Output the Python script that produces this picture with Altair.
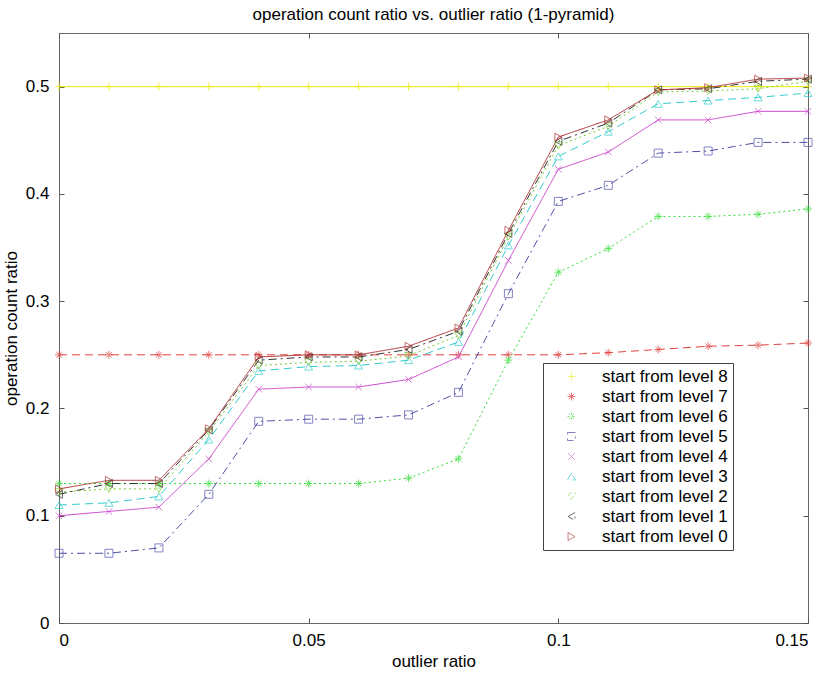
import altair as alt
import pandas as pd

outlier_ratio = [0.00, 0.01, 0.02, 0.03, 0.04, 0.05, 0.06, 0.07,
                 0.08, 0.09, 0.10, 0.11, 0.12, 0.13, 0.14, 0.15]

level8 = [0.5, 0.5, 0.5, 0.5, 0.5, 0.5, 0.5, 0.5, 0.5, 0.5, 0.5, 0.5, 0.5, 0.5, 0.5, 0.5]
level7 = [0.25, 0.25, 0.25, 0.25, 0.25, 0.25, 0.25, 0.25, 0.25, 0.25, 0.25, 0.252, 0.255, 0.258, 0.259, 0.261]
level6 = [0.13, 0.13, 0.13, 0.13, 0.13, 0.13, 0.13, 0.135, 0.153, 0.245, 0.327, 0.349, 0.379, 0.379, 0.381, 0.386]
level5 = [0.065, 0.065, 0.07, 0.12, 0.188, 0.19, 0.19, 0.194, 0.215, 0.307, 0.393, 0.408, 0.438, 0.44, 0.448, 0.448]
level4 = [0.10, 0.104, 0.108, 0.153, 0.218, 0.22, 0.22, 0.227, 0.248, 0.338, 0.423, 0.439, 0.469, 0.469, 0.477, 0.477]
level3 = [0.11, 0.112, 0.118, 0.171, 0.235, 0.239, 0.24, 0.245, 0.262, 0.352, 0.435, 0.458, 0.484, 0.487, 0.49, 0.494]
level2 = [0.122, 0.125, 0.125, 0.178, 0.24, 0.243, 0.244, 0.249, 0.268, 0.36, 0.445, 0.463, 0.495, 0.496, 0.498, 0.505]
level1 = [0.12, 0.13, 0.13, 0.18, 0.245, 0.248, 0.248, 0.255, 0.272, 0.363, 0.449, 0.466, 0.497, 0.498, 0.505, 0.507]
level0 = [0.125, 0.133, 0.133, 0.181, 0.248, 0.25, 0.25, 0.258, 0.275, 0.366, 0.453, 0.469, 0.497, 0.499, 0.507, 0.508]

series_names = ["start from level 8", "start from level 7", "start from level 6",
                "start from level 5", "start from level 4", "start from level 3",
                "start from level 2", "start from level 1", "start from level 0"]
series_values = [level8, level7, level6, level5, level4, level3, level2, level1, level0]

x_ticks = [0, 0.05, 0.1, 0.15]
y_ticks = [0, 0.1, 0.2, 0.3, 0.4, 0.5]

colors = ["#e8e800", "#e04040", "#33dd33", "#5050aa", "#cc44cc", "#33cccc", "#77cc33", "#333333", "#b03030"]
dashes = [[1, 0], [8, 5], [2, 3], [8, 4, 2, 4], [1, 0], [8, 5], [2, 3], [8, 4, 2, 4], [1, 0]]
plus = "M-1,0L1,0M0,-1L0,1"
star = "M-1,0L1,0M0,-1L0,1M-0.7,-0.7L0.7,0.7M-0.7,0.7L0.7,-0.7"
cross = "M-0.8,-0.8L0.8,0.8M-0.8,0.8L0.8,-0.8"
shapes = [plus, star, star, "square", cross, "triangle-up", "triangle-down", "triangle-left", "triangle-right"]

rows = []
for order, (name, vals) in enumerate(zip(series_names, series_values)):
    for x, y in zip(outlier_ratio, vals):
        rows.append({"series": name, "order": order, "x": x, "y": y})
df = pd.DataFrame(rows)

FONT = "Liberation Sans"

x_scale = alt.Scale(domain=[0, 0.15], nice=False, zero=False)
y_scale = alt.Scale(domain=[0, 0.55], nice=False)

legend_cfg = dict(title=None, orient="none", legendX=484, legendY=330,
                  fillColor="white", strokeColor="#444", padding=5,
                  labelFont=FONT, labelFontSize=17, labelColor="black",
                  symbolSize=64, symbolStrokeWidth=1, symbolOffset=15,
                  labelOffset=22, rowPadding=2, symbolFillColor="transparent")

color = alt.Color("series:N", scale=alt.Scale(domain=series_names, range=colors),
                  legend=alt.Legend(**legend_cfg))
shape = alt.Shape("series:N", scale=alt.Scale(domain=series_names, range=shapes),
                  legend=alt.Legend(**legend_cfg))
dash = alt.StrokeDash("series:N", scale=alt.Scale(domain=series_names, range=dashes), legend=None)

label_expr = "datum.value == 0 ? '0' : format(datum.value, '.2~f')"
axis_common = dict(labelFont=FONT, labelFontSize=17, labelColor="black", titleFont=FONT,
                   titleFontSize=17, titleFontWeight="normal", titleColor="black",
                   domain=False, tickColor="#555", tickSize=5, offset=-5, grid=False,
                   labelExpr=label_expr)

lines = alt.Chart(df).mark_line(strokeWidth=1).encode(
    x=alt.X("x:Q", scale=x_scale,
            axis=alt.Axis(title="outlier ratio", values=x_ticks, labelPadding=9,
                          titlePadding=5, **axis_common)),
    y=alt.Y("y:Q", scale=y_scale,
            axis=alt.Axis(title="operation count ratio", values=y_ticks,
                          labelPadding=10, titlePadding=5, **axis_common)),
    color=color,
    strokeDash=dash,
    order=alt.Order("x:Q"),
)

points = alt.Chart(df).mark_point(filled=False, size=64, strokeWidth=1).encode(
    x=alt.X("x:Q", scale=x_scale,
            axis=alt.Axis(orient="top", title=None, labels=False, values=x_ticks,
                          domain=False, tickColor="#555", tickSize=5, offset=-5, grid=False)),
    y=alt.Y("y:Q", scale=y_scale,
            axis=alt.Axis(orient="right", title=None, labels=False, values=y_ticks,
                          domain=False, tickColor="#555", tickSize=5, offset=-5, grid=False)),
    color=color,
    shape=shape,
)

chart = alt.layer(lines, points).resolve_axis(x="independent", y="independent").properties(
    width=749, height=590,
    autosize=alt.AutoSizeParams(type="none"),
    padding={"left": 59, "top": 33, "right": 20, "bottom": 50},
    title=alt.TitleParams("operation count ratio vs. outlier ratio (1-pyramid)", font=FONT,
                          fontSize=17, fontWeight="normal", color="black", offset=9),
    background="white",
).configure_view(stroke="#666", strokeWidth=1)

chart.save("out.html", embed_options={"renderer": "svg", "actions": False})
